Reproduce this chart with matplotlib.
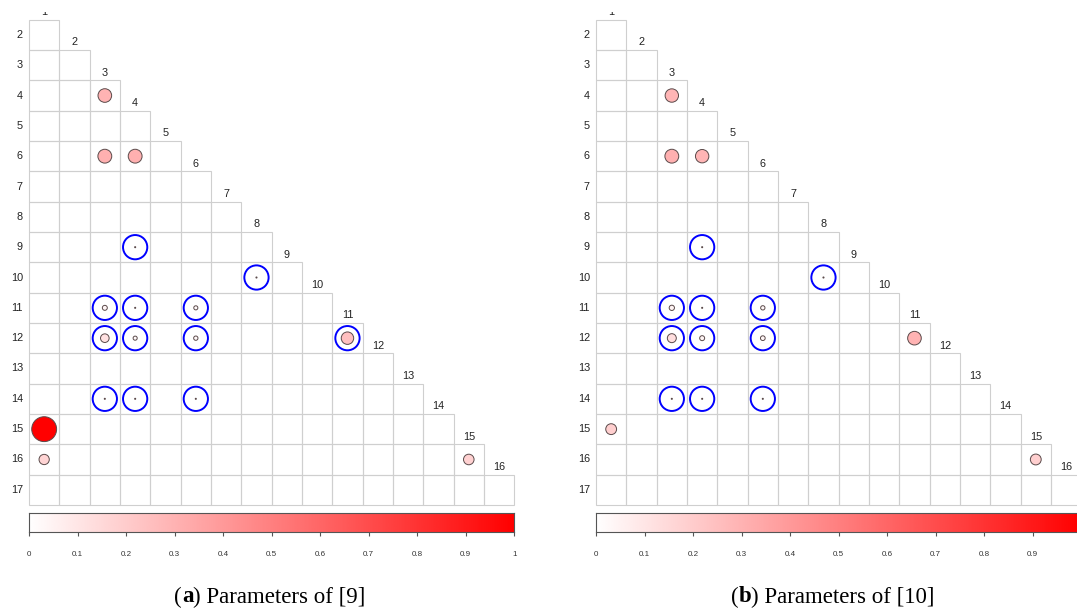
import numpy as np
import matplotlib
matplotlib.use("Agg")
import matplotlib.pyplot as plt
from matplotlib.patches import Rectangle, Circle
from matplotlib.colors import LinearSegmentedColormap
from matplotlib.transforms import Bbox, TransformedBbox

plt.rcParams["font.family"] = ["Liberation Sans", "DejaVu Sans"]

# ---- data -------------------------------------------------------------
row_labels = [str(r) for r in range(2, 18)]        # rows 2..17
col_labels = [str(c) for c in range(1, 17)]        # columns 1..16
cbar_ticks = [0, 0.1, 0.2, 0.3, 0.4, 0.5, 0.6, 0.7, 0.8, 0.9, 1.0]
cbar_ticklabels = ["0", "0.1", "0.2", "0.3", "0.4", "0.5", "0.6", "0.7", "0.8", "0.9", "1"]

# panel (a): parameters of [9]
a_rows = [4, 6, 6, 9, 10, 11, 11, 11, 12, 12, 12, 12, 14, 14, 14, 15, 16, 16]
a_cols = [3, 3, 4, 4, 8, 3, 4, 6, 3, 4, 6, 11, 3, 4, 6, 1, 1, 15]
a_vals = [0.30, 0.31, 0.31, 0.002, 0.002, 0.04, 0.002, 0.027, 0.12, 0.027, 0.03, 0.25,
          0.002, 0.002, 0.002, 1.0, 0.17, 0.18]
a_ring_rows = [9, 10, 11, 11, 11, 12, 12, 12, 12, 14, 14, 14]
a_ring_cols = [4, 8, 3, 4, 6, 3, 4, 6, 11, 3, 4, 6]

# panel (b): parameters of [10]
b_rows = [4, 6, 6, 9, 10, 11, 11, 11, 12, 12, 12, 12, 14, 14, 14, 15, 16]
b_cols = [3, 3, 4, 4, 8, 3, 4, 6, 3, 4, 6, 11, 3, 4, 6, 1, 15]
b_vals = [0.29, 0.31, 0.29, 0.002, 0.002, 0.045, 0.002, 0.03, 0.13, 0.04, 0.036, 0.30,
          0.002, 0.002, 0.002, 0.19, 0.19]
b_ring_rows = [9, 10, 11, 11, 11, 12, 12, 12, 14, 14, 14]
b_ring_cols = [4, 8, 3, 4, 6, 3, 4, 6, 3, 4, 6]

# ---- layout (pixels) --------------------------------------------------
W, H = 1077, 612
CELL = 30.33
NCELL = 16
GRID_TOP = 19.7
CBAR_TOP, CBAR_BOT = 513, 532

cmap = LinearSegmentedColormap.from_list("wr", ["#ffffff", "#ff0000"])

fig = plt.figure(figsize=(W / 100, H / 100), dpi=100)
fig.patch.set_facecolor("white")


def px_axes(left, top, width, height):
    return fig.add_axes([left / W, (H - top - height) / H, width / W, height / H])


def draw_panel(left, rows, cols, vals, ring_rows, ring_cols, caption_tag, caption_rest,
               cap_x, n_ticks):
    size = NCELL * CELL
    ax = px_axes(left, GRID_TOP, size, size)
    ax.set_xlim(0.5, 16.5)
    ax.set_ylim(17.5, 1.5)
    ax.set_axis_off()

    # lower-triangular grid of cells
    for i in range(2, 18):
        for j in range(1, i):
            ax.add_patch(Rectangle((j - 0.5, i - 0.5), 1, 1, facecolor="none",
                                   edgecolor="#cfcfcf", lw=0.8, clip_on=False))

    # row labels
    for i, lab in zip(range(2, 18), row_labels):
        ax.text(0.30, i, lab, ha="right", va="center", fontsize=7.8,
                color="#222222", clip_on=False)

    # column labels along the staircase
    for j, lab in zip(range(1, 17), col_labels):
        t = ax.text(j, j + 0.5 - 0.09, lab, ha="center", va="bottom", fontsize=7.8,
                    color="#222222", clip_on=False)
        if j == 1:
            t.set_clip_on(True)
            t.set_clip_box(TransformedBbox(Bbox.from_extents(0, 0, 1, (H - 12) / H),
                                           fig.transFigure))

    # value circles: area proportional to value, colour by value
    for r, c, v in zip(rows, cols, vals):
        ax.add_patch(Circle((c, r), radius=0.41 * np.sqrt(v), facecolor=cmap(v),
                            edgecolor="#5a4a4a", lw=0.7, zorder=3))

    # highlight rings
    for r, c in zip(ring_rows, ring_cols):
        ax.add_patch(Circle((c, r), radius=0.40, facecolor="none",
                            edgecolor="#0000ff", lw=1.4, zorder=4))

    # colour bar
    cax = px_axes(left, CBAR_TOP, size, CBAR_BOT - CBAR_TOP)
    grad = np.linspace(0, 1, 512).reshape(1, -1)
    cax.imshow(grad, cmap=cmap, aspect="auto", extent=(0, 1, 0, 1), vmin=0, vmax=1)
    cax.set_xlim(0, 1)
    cax.set_yticks([])
    cax.set_xticks(cbar_ticks[:n_ticks])
    cax.set_xticklabels(cbar_ticklabels[:n_ticks])
    cax.tick_params(axis="x", length=3, width=0.8, color="#555555", pad=11,
                    labelsize=5.8, labelcolor="#333333")
    for s in cax.spines.values():
        s.set_edgecolor("#555555")
        s.set_linewidth(0.8)

    # caption with bold tag
    y = 1 - 597 / H
    renderer = fig.canvas.get_renderer()
    parts = [("(", "normal"), (caption_tag, "bold"), (") " + caption_rest, "normal")]
    texts = []
    for s, w in parts:
        texts.append(fig.text(0, y, s, fontsize=16.5, fontweight=w,
                              family="Liberation Serif", va="center", ha="left"))
    widths = [t.get_window_extent(renderer).width for t in texts]
    x = cap_x - sum(widths) / 2
    for t, w in zip(texts, widths):
        t.set_x(x / W)
        x += w


draw_panel(29, a_rows, a_cols, a_vals, a_ring_rows, a_ring_cols, "a", "Parameters of [9]",
           270, 11)
draw_panel(596, b_rows, b_cols, b_vals, b_ring_rows, b_ring_cols, "b", "Parameters of [10]",
           833, 10)

fig.savefig("out.png", dpi=100, facecolor="white")
